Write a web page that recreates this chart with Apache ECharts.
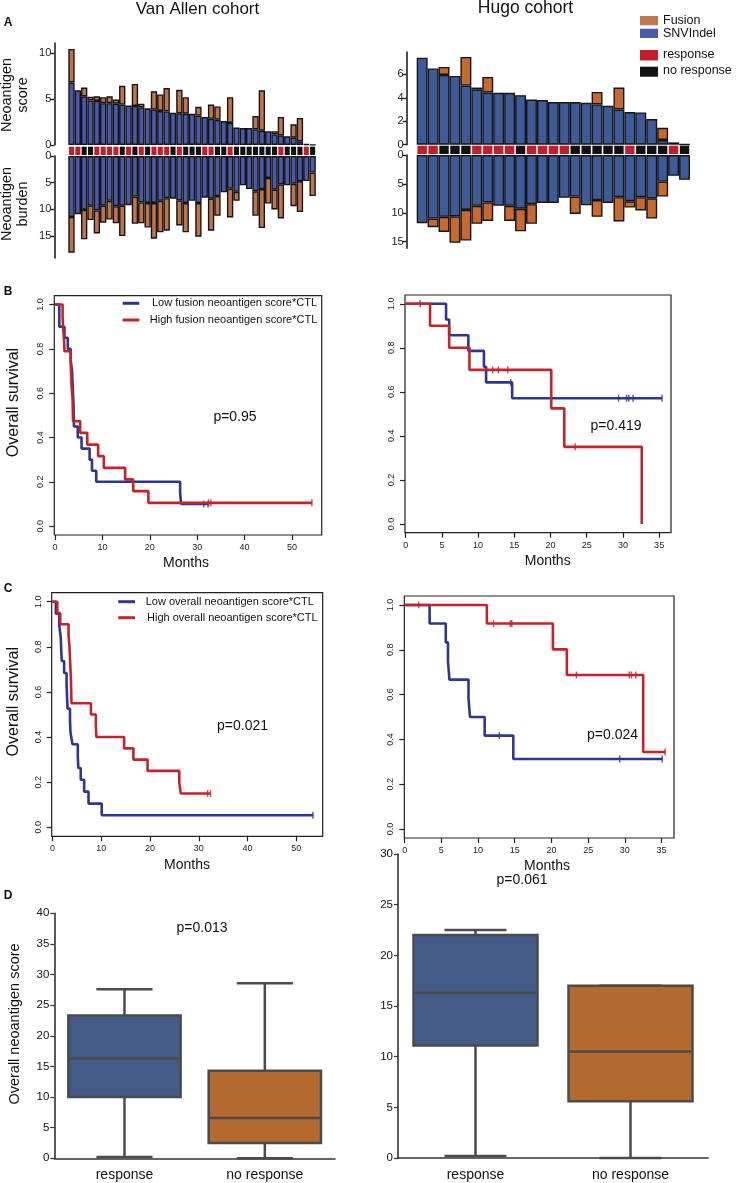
<!DOCTYPE html>
<html lang="en">
<head>
<meta charset="UTF-8">
<script src="https://cdn.jsdelivr.net/npm/echarts@6/dist/echarts.min.js"></script>
<style>
    html, body { margin: 0; padding: 0; background: #fff; }
    #main { width: 736px; height: 1183px; }
</style>
</head>
<body>
<div id="main"></div>
<script type="text/javascript">
    const FONT = '"Liberation Sans", Arial, sans-serif';

    // ---- panel A : Van Allen cohort (39 patients) ----
    const vaSnvScore = [6.8, 5.95, 5.3, 4.85, 4.8, 4.55, 4.55, 4.5, 4.4, 4.3, 4.25, 4.1, 4.0, 3.85, 3.7, 3.65, 3.5, 3.45, 3.4, 3.4,
        3.2, 3.05, 2.85, 2.75, 2.6, 2.4, 1.9, 1.85, 1.85, 1.7, 1.55, 1.5, 1.15, 1.05, 0.95, 0.8, 0.4, 0.1, 0.02];
    const vaFusionScore = [3.65, 0, 0.95, 0.4, 0.5, 0.65, 0.75, 0.45, 2.05, 0, 2.4, 0.4, 0, 2.0, 1.8, 2.55, 0, 2.55, 1.8, 0,
        0.95, 0, 1.55, 1.45, 0, 2.8, 0, 0, 0, 1.45, 4.4, 0, 0.35, 2.0, 0, 1.45, 2.55, 0, 0];
    const vaSnvBurden = [11.4, 10.9, 10.1, 9.3, 10.2, 9.3, 8.4, 9.4, 9.3, 9.2, 7.6, 8.7, 8.8, 8.8, 8.4, 7.9, 8.0, 8.3, 8.8, 8.4,
        8.8, 7.8, 8.0, 7.5, 6.8, 6.1, 6.7, 5.5, 6.2, 6.6, 6.2, 4.1, 6.3, 5.3, 5.5, 5.2, 4.7, 4.7, 3.1];
    const vaFusionBurden = [6.7, 0, 5.5, 2.7, 4.3, 3.2, 3.5, 3.2, 5.7, 0, 5.1, 3.9, 4.6, 6.7, 5.9, 6.1, 0, 4.7, 5.5, 0,
        6.3, 0, 6.0, 3.7, 0, 5.4, 1.7, 0, 0, 4.6, 7.3, 4.8, 3.7, 6.4, 0, 4.2, 5.8, 0, 4.4];
    // 1 = response, 0 = no response
    const vaResponse = [1, 1, 0, 0, 1, 1, 1, 1, 0, 1, 0, 1, 0, 1, 1, 1, 0, 1, 0, 0,
        0, 1, 1, 0, 0, 1, 0, 0, 0, 0, 0, 0, 0, 1, 0, 0, 0, 1, 0];

    // ---- panel A : Hugo cohort (25 patients) ----
    const hugoSnvScore = [7.42, 6.5, 5.95, 5.86, 5.04, 4.7, 4.45, 4.42, 4.42, 4.22, 3.85, 3.8, 3.63, 3.63, 3.63, 3.57, 3.43, 3.31, 3.0, 2.78,
        2.75, 2.18, 0.4, 0.2, 0.03];
    const hugoFusionScore = [0, 0, 0.68, 0, 2.44, 0.17, 1.33, 0, 0, 0, 0, 0, 0, 0, 0, 0, 1.07, 0, 1.87, 0,
        0, 0, 1.04, 0, 0];
    const hugoSnvBurden = [11.8, 11.0, 10.7, 10.6, 9.5, 8.8, 8.2, 8.8, 8.8, 9.3, 8.5, 8.3, 8.3, 7.4, 7.2, 8.7, 7.8, 8.3, 7.3, 8.0,
        7.3, 7.5, 4.6, 3.6, 4.3];
    const hugoFusionBurden = [0, 1.5, 2.6, 4.6, 5.3, 3.1, 3.2, 0, 2.6, 3.9, 3.4, 0, 0, 0, 3.0, 0, 2.9, 0, 4.2, 1.1,
        2.3, 3.5, 2.6, 0, 0];
    const hugoResponse = [1, 1, 0, 0, 0, 1, 1, 1, 1, 0, 1, 1, 1, 1, 0, 0, 0, 0, 0, 1,
        0, 0, 0, 1, 0];

    // ---- panel B : survival, fusion neoantigen score*CTL  [months, survival] ----
    const bVaLow = [[0, 1], [0.9, 0.9], [2.0, 0.85], [2.7, 0.8], [3.3, 0.75], [3.6, 0.7], [3.7, 0.65], [3.8, 0.6], [3.9, 0.55],
        [3.95, 0.5], [4.0, 0.45], [4.8, 0.4], [5.6, 0.35], [7.3, 0.3], [7.8, 0.25], [8.7, 0.2], [26.4, 0.15], [26.6, 0.1], [32.3, 0.1]];
    const bVaLowCens = [[31.4, 0.1], [32.3, 0.1]];
    const bVaHigh = [[0, 1], [1.6, 0.947], [1.7, 0.895], [1.9, 0.842], [2.0, 0.789], [3.3, 0.737], [3.4, 0.684], [3.5, 0.632],
        [3.7, 0.579], [3.75, 0.526], [3.8, 0.474], [5.3, 0.421], [6.8, 0.368], [9.1, 0.316], [10.3, 0.263], [14.8, 0.211],
        [16.5, 0.158], [19.7, 0.105], [54.2, 0.105]];
    const bVaHighCens = [[32.4, 0.105], [32.9, 0.105], [54.2, 0.105]];
    const bHugoLow = [[0, 1], [5.57, 0.929], [6.0, 0.857], [8.65, 0.786], [10.8, 0.714], [11.1, 0.643], [14.7, 0.571], [35.4, 0.571]];
    const bHugoLowCens = [[2.0, 1], [14.5, 0.643], [29.4, 0.571], [30.5, 0.571], [30.8, 0.571], [31.4, 0.571], [35.4, 0.571]];
    const bHugoHigh = [[0, 1], [3.36, 0.9], [6.0, 0.8], [8.8, 0.7], [20.1, 0.525], [21.9, 0.35], [32.6, 0.0]];
    const bHugoHighCens = [[12.0, 0.7], [12.8, 0.7], [14.1, 0.7], [23.4, 0.35]];

    // ---- panel C : survival, overall neoantigen score*CTL ----
    const cVaLow = [[0, 1], [0.7, 0.947], [1.4, 0.895], [1.7, 0.842], [1.8, 0.789], [1.9, 0.737], [2.4, 0.684], [2.9, 0.632],
        [3.0, 0.579], [3.1, 0.526], [3.6, 0.474], [3.7, 0.421], [4.1, 0.368], [5.2, 0.316], [5.3, 0.263], [5.8, 0.211],
        [6.5, 0.158], [7.4, 0.105], [10.1, 0.053], [53.4, 0.053]];
    const cVaLowCens = [[53.4, 0.053]];
    const cVaHigh = [[0, 1], [1.0, 0.95], [1.6, 0.9], [3.3, 0.85], [3.5, 0.8], [3.6, 0.75], [3.7, 0.7], [3.8, 0.65], [3.9, 0.55],
        [7.9, 0.5], [8.9, 0.45], [9.0, 0.4], [14.7, 0.35], [16.6, 0.3], [19.5, 0.25], [26.0, 0.2], [26.3, 0.15], [32.4, 0.15]];
    const cVaHighCens = [[31.8, 0.15], [32.4, 0.15]];
    const cHugoLow = [[0, 1], [3.4, 0.917], [5.6, 0.833], [5.9, 0.75], [6.1, 0.667], [8.7, 0.583], [8.9, 0.5], [10.9, 0.417],
        [14.8, 0.3125], [35.1, 0.3125]];
    const cHugoLowCens = [[12.9, 0.417], [29.3, 0.3125], [35.1, 0.3125]];
    const cHugoHigh = [[0, 1], [11.2, 0.917], [20.2, 0.802], [22.1, 0.6875], [32.5, 0.344], [35.5, 0.344]];
    const cHugoHighCens = [[1.9, 1], [12.1, 0.917], [14.4, 0.917], [14.6, 0.917], [23.4, 0.6875], [30.6, 0.6875], [30.9, 0.6875],
        [31.5, 0.6875], [35.5, 0.344]];

    // ---- panel D : overall neoantigen score  [min, Q1, median, Q3, max] ----
    const boxGroups = ['response', 'no response'];
    const dVaBox = [[0.2, 10.0, 16.3, 23.3, 27.6], [0.0, 2.5, 6.6, 14.3, 28.6]];
    const dHugoBox = [[0.2, 11.1, 16.3, 22.0, 22.5], [0.0, 5.6, 10.5, 17.0, 17.0]];

    const vaBlue = '#4a5aa8', vaOrange = '#c0744a';
    const hgBlue = '#3f5a98', hgOrange = '#c8692f';
    const RED = '#c21f2a', BLACK = '#121212';
    const kmBlue = '#2e3592', kmRed = '#c4232b';
    const boxBlue = '#445a87', boxOrange = '#b4692f';

    const myEcharts = echarts.init(document.getElementById('main'));

    const grids = [
        {left: 68.3, top: 43, width: 247.5, height: 102},     // 0 VA score
        {left: 68.3, top: 146.7, width: 247.5, height: 8.3},  // 1 VA response
        {left: 68.3, top: 156, width: 247.5, height: 102},    // 2 VA burden
        {left: 416.7, top: 52, width: 273.3, height: 92.7},   // 3 Hugo score
        {left: 416.7, top: 145.7, width: 273.3, height: 8.3}, // 4 Hugo response
        {left: 416.7, top: 155, width: 273.3, height: 93.3},  // 5 Hugo burden
        {left: 54.3, top: 295.7, width: 267.4, height: 239.3},// 6 B VA
        {left: 405, top: 295, width: 266, height: 237.7},     // 7 B Hugo
        {left: 51.7, top: 592.7, width: 271, height: 243.6},  // 8 C VA
        {left: 404.3, top: 596, width: 269.7, height: 242},   // 9 C Hugo
        {left: 54.3, top: 913.3, width: 280.7, height: 245},  // 10 D VA
        {left: 398, top: 854, width: 310, height: 304}        // 11 D Hugo
    ];
    grids.slice(6, 10).forEach(g => { g.show = true; g.borderColor = '#222'; g.borderWidth = 1.2; });

    const xAxes = [], yAxes = [], series = [];
    const idx = n => Array.from({length: n}, (_, i) => i);
    const axisColor = '#222';

    // bar panels
    function barAxes(g, n, max, ticks, inverse, offset) {
        xAxes.push({type: 'category', gridIndex: g, data: idx(n), show: false});
        yAxes.push({
            type: 'value', gridIndex: g, min: 0, max: max, inverse: inverse, offset: offset,
            axisLine: {show: true, lineStyle: {color: axisColor, width: 1.6}},
            axisTick: {show: true, length: 4, customValues: ticks, lineStyle: {color: axisColor, width: 1.4}},
            axisLabel: {customValues: ticks, fontSize: 11, color: axisColor, fontFamily: FONT, margin: 3},
            splitLine: {show: false}
        });
    }
    function rowAxes(g, n) {
        xAxes.push({type: 'category', gridIndex: g, data: idx(n), show: false});
        yAxes.push({type: 'value', gridIndex: g, min: 0, max: 1, show: false});
    }
    function stackBars(g, snv, fusion, blue, orange) {
        const bw = grids[g].width / snv.length;
        const common = {type: 'bar', xAxisIndex: g, yAxisIndex: g, stack: 's' + g, barWidth: bw, barCategoryGap: '0%', silent: true};
        series.push(Object.assign({}, common, {
            data: snv, itemStyle: {color: blue, borderColor: '#151515', borderWidth: 1.4}
        }));
        series.push(Object.assign({}, common, {
            data: fusion.map(v => v > 0 ? v : '-'), itemStyle: {color: orange, borderColor: '#151515', borderWidth: 1.4}
        }));
    }
    function responseRow(g, resp, gap) {
        series.push({
            type: 'bar', xAxisIndex: g, yAxisIndex: g, barCategoryGap: gap, silent: true,
            data: resp.map(r => ({value: 1, itemStyle: {color: r === 1 ? RED : BLACK}}))
        });
    }

    barAxes(0, 39, 11.1, [0, 5, 10], false, 14);
    rowAxes(1, 39);
    barAxes(2, 39, 19.1, [0, 5, 10, 15], true, 14);
    barAxes(3, 25, 7.9, [0, 2, 4, 6], false, 10);
    rowAxes(4, 25);
    barAxes(5, 25, 16.14, [0, 5, 10, 15], true, 10);

    stackBars(0, vaSnvScore, vaFusionScore, vaBlue, vaOrange);
    responseRow(1, vaResponse, '20%');
    stackBars(2, vaSnvBurden, vaFusionBurden, vaBlue, vaOrange);
    stackBars(3, hugoSnvScore, hugoFusionScore, hgBlue, hgOrange);
    responseRow(4, hugoResponse, '14%');
    stackBars(5, hugoSnvBurden, hugoFusionBurden, hgBlue, hgOrange);

    // survival panels
    const survTicks = [0, 0.2, 0.4, 0.6, 0.8, 1];
    function kmAxes(g, xmin, xmax, xticks) {
        xAxes.push({
            type: 'value', gridIndex: g, min: xmin, max: xmax,
            axisLine: {show: false, onZero: false},
            axisTick: {show: true, length: 5, customValues: xticks, lineStyle: {color: axisColor, width: 1.2}},
            axisLabel: {customValues: xticks, fontSize: 9, color: axisColor, fontFamily: FONT, margin: 8},
            splitLine: {show: false}
        });
        yAxes.push({
            type: 'value', gridIndex: g, min: -0.04, max: 1.04,
            axisLine: {show: false, onZero: false},
            axisTick: {show: true, length: 5, customValues: survTicks, lineStyle: {color: axisColor, width: 1.2}},
            axisLabel: {customValues: survTicks, rotate: 90, fontSize: 9, color: axisColor, fontFamily: FONT, margin: 9,
                formatter: v => v.toFixed(1)},
            splitLine: {show: false}
        });
    }
    function km(g, curve, cens, color) {
        series.push({
            type: 'line', xAxisIndex: g, yAxisIndex: g, step: 'end', data: curve, showSymbol: false, silent: true,
            lineStyle: {color: color, width: 2.6}, itemStyle: {color: color}
        });
        series.push({
            type: 'scatter', xAxisIndex: g, yAxisIndex: g, data: cens, symbol: 'rect', symbolSize: [1.5, 7], silent: true,
            itemStyle: {color: color}
        });
    }
    kmAxes(6, -0.15, 56.27, [0, 10, 20, 30, 40, 50]);
    kmAxes(7, -0.1, 36.64, [0, 5, 10, 15, 20, 25, 30, 35]);
    kmAxes(8, -0.15, 55.4, [0, 10, 20, 30, 40, 50]);
    kmAxes(9, -0.05, 36.7, [0, 5, 10, 15, 20, 25, 30, 35]);

    km(6, bVaLow, bVaLowCens, kmBlue);
    km(6, bVaHigh, bVaHighCens, kmRed);
    km(7, bHugoLow, bHugoLowCens, kmBlue);
    km(7, bHugoHigh, bHugoHighCens, kmRed);
    km(8, cVaLow, cVaLowCens, kmBlue);
    km(8, cVaHigh, cVaHighCens, kmRed);
    km(9, cHugoLow, cHugoLowCens, kmBlue);
    km(9, cHugoHigh, cHugoHighCens, kmRed);

    // box panels
    function boxAxes(g, max) {
        xAxes.push({
            type: 'category', gridIndex: g, data: boxGroups,
            axisLine: {show: true, lineStyle: {color: '#333', width: 1.6}},
            axisTick: {show: false},
            axisLabel: {fontSize: 14, color: '#111', fontFamily: FONT, margin: 10}
        });
        yAxes.push({
            type: 'value', gridIndex: g, min: 0, max: max, interval: 5,
            axisLine: {show: true, lineStyle: {color: '#333', width: 1.6}},
            axisTick: {show: true, length: 4, lineStyle: {color: '#333', width: 1.2}},
            axisLabel: {fontSize: 11.5, color: '#111', fontFamily: FONT, margin: 5},
            splitLine: {show: false}
        });
    }
    function renderBox(params, api) {
        const c = api.value(0);
        const bw = api.size([1, 0])[0] * 0.8;
        const lo = api.coord([c, api.value(1)]);
        const q1 = api.coord([c, api.value(2)]);
        const md = api.coord([c, api.value(3)]);
        const q3 = api.coord([c, api.value(4)]);
        const hi = api.coord([c, api.value(5)]);
        const x = lo[0];
        const ls = {stroke: '#4b4b4b', lineWidth: 2.5};
        return {
            type: 'group', children: [
                {type: 'line', shape: {x1: x, y1: hi[1], x2: x, y2: q3[1]}, style: ls},
                {type: 'line', shape: {x1: x, y1: q1[1], x2: x, y2: lo[1]}, style: ls},
                {type: 'line', shape: {x1: x - bw / 4, y1: hi[1], x2: x + bw / 4, y2: hi[1]}, style: ls},
                {type: 'line', shape: {x1: x - bw / 4, y1: lo[1], x2: x + bw / 4, y2: lo[1]}, style: ls},
                {type: 'rect', shape: {x: x - bw / 2, y: q3[1], width: bw, height: q1[1] - q3[1]},
                    style: {fill: api.visual('color'), stroke: '#4b4b4b', lineWidth: 2.5}},
                {type: 'line', shape: {x1: x - bw / 2, y1: md[1], x2: x + bw / 2, y2: md[1]}, style: ls}
            ]
        };
    }
    function boxes(g, stats) {
        series.push({
            type: 'custom', xAxisIndex: g, yAxisIndex: g, renderItem: renderBox, silent: true,
            data: stats.map((s, i) => ({value: [i].concat(s), itemStyle: {color: i === 0 ? boxBlue : boxOrange}}))
        });
    }
    boxAxes(10, 40);
    boxAxes(11, 30);
    boxes(10, dVaBox);
    boxes(11, dHugoBox);

    // texts
    function txt(text, x, y, size, opts) {
        return Object.assign({
            type: 'text', x: x, y: y, silent: true,
            style: Object.assign({text: text, font: size + 'px ' + FONT, fill: '#111', textAlign: 'center', textVerticalAlign: 'middle'},
                (opts && opts.style) || {})
        }, (opts && opts.el) || {});
    }
    const rot = {el: {rotation: Math.PI / 2}};
    const bold = s => ({style: {font: 'bold ' + s + 'px ' + FONT}});
    const left = {style: {textAlign: 'left'}};
    const rotLines = {el: {rotation: Math.PI / 2}, style: {lineHeight: 16}};
    function legLine(x1, x2, y, color) {
        return {type: 'line', silent: true, shape: {x1: x1, y1: y, x2: x2, y2: y}, style: {stroke: color, lineWidth: 3}};
    }
    function legRect(x, y, h, color) {
        return {type: 'rect', silent: true, shape: {x: x, y: y, width: 18, height: h}, style: {fill: color}};
    }

    const graphics = [
        txt('Van Allen cohort', 197.5, 9.5, 17),
        txt('Hugo cohort', 525.5, 8.5, 17.5),
        txt('A', 8, 22.5, 12, bold(12)),
        txt('B', 8, 292, 12, bold(12)),
        txt('C', 8, 589, 12, bold(12)),
        txt('D', 8, 895.7, 12, bold(12)),
        // legend of panel A
        legRect(640, 16, 9.3, '#c0774e'),
        legRect(640, 28.7, 9.3, vaBlue),
        legRect(640, 50, 10.5, RED),
        legRect(640, 66.7, 10, BLACK),
        txt('Fusion', 663, 20.7, 12.5, left),
        txt('SNVIndel', 663, 33.3, 12.5, left),
        txt('response', 663, 55, 12.5, left),
        txt('no response', 663, 71, 12.5, left),
        // axis titles
        txt('Neoantigen\nscore', 14.7, 95, 14.5, rotLines),
        txt('Neoantigen\nburden', 14.7, 204, 14.5, rotLines),
        txt('Overall survival', 13.3, 402.5, 16, rot),
        txt('Overall survival', 13.3, 701.7, 16, rot),
        txt('Overall neoantigen score', 15, 1024, 14.5, rot),
        txt('Months', 186, 563, 14),
        txt('Months', 547.7, 561, 14),
        txt('Months', 187, 865, 14),
        txt('Months', 547, 866, 14),
        // survival legends
        legLine(122.7, 139.3, 303.3, kmBlue),
        legLine(122.7, 139.3, 320, kmRed),
        txt('Low fusion neoantigen score*CTL', 317, 303.3, 11, {style: {textAlign: 'right'}}),
        txt('High fusion neoantigen score*CTL', 317.3, 320, 11, {style: {textAlign: 'right'}}),
        legLine(118.3, 135, 601.7, kmBlue),
        legLine(118.3, 135, 617.7, kmRed),
        txt('Low overall neoantigen score*CTL', 145.7, 601.7, 11, left),
        txt('High overall neoantigen score*CTL', 147, 617.7, 11, left),
        // p values
        txt('p=0.95', 235, 416.7, 14),
        txt('p=0.419', 616, 425.7, 14),
        txt('p=0.021', 242.5, 726, 14),
        txt('p=0.024', 612.5, 735, 14),
        txt('p=0.013', 202, 928, 14),
        txt('p=0.061', 522, 880, 14)
    ];

    const option = {
        animation: false,
        backgroundColor: '#fff',
        textStyle: {fontFamily: FONT},
        grid: grids,
        xAxis: xAxes,
        yAxis: yAxes,
        series: series,
        graphic: {elements: graphics}
    };
    myEcharts.setOption(option);
</script>
</body>
</html>
